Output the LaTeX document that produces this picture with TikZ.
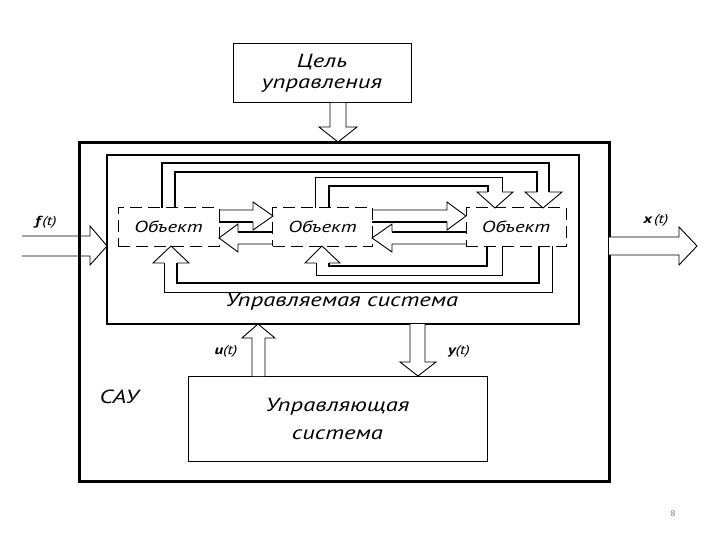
\documentclass[tikz,border=0pt]{standalone}
\usepackage{fontspec}
\newfontfamily\lbl[FakeStretch=1.3]{PT Sans}
\begin{document}
\begin{tikzpicture}[x=1pt,y=-1pt,
  box/.style={draw, line width=1pt, inner sep=0pt},
  bigtxt/.style={font=\lbl\itshape\fontsize{19}{21}\selectfont},
  objbox/.style={draw, line width=1pt, dash pattern=on 12pt off 6pt, inner sep=0pt,
    minimum height=38pt, font=\lbl\itshape\fontsize{16}{18}\selectfont},
  thinln/.style={line width=0.9pt},
  midln/.style={line width=1.6pt},
  thickln/.style={line width=2.4pt},
  hollow/.style={draw, line width=0.9pt, line join=miter},
  sig/.style={font=\lbl\itshape\fontsize{13}{15}\selectfont, inner sep=1pt},
]
\useasboundingbox (0,0) rectangle (720,540);
\fill[white] (0,0) rectangle (720,540);

% boxes
\node[box, bigtxt, minimum width=178pt, minimum height=59pt, align=center] (goal) at (322,73.5) {Цель\\управления};
\node[draw, line width=3pt, minimum width=530pt, minimum height=338pt, inner sep=0pt] (sau) at (344,312) {};
\node[box, line width=1.2pt, minimum width=472pt, minimum height=169pt] (plant) at (343,239.5) {};
\node[objbox, minimum width=101pt] (o1) at (168.5,227) {Объект};
\node[objbox, minimum width=100pt] (o2) at (322.5,227) {Объект};
\node[objbox, minimum width=100pt] (o3) at (516,227) {Объект};
\node[box, font=\lbl\itshape\fontsize{19}{28}\selectfont, minimum width=299pt, minimum height=85pt, align=center] (ctrl) at (337.5,418.5) {Управляющая\\система};
\node[bigtxt] (plantlbl) at (342,302) {Управляемая система};
\node[font=\lbl\itshape\fontsize{19}{22}\selectfont] (saulbl) at (119,397) {САУ};

% signal labels
\node[sig] (flbl) at (46,222) {{\bfseries f}\,(t)};
\node[sig] (xlbl) at (656,220) {{\bfseries x}\,(t)};
\node[sig] (ulbl) at (226,351) {{\bfseries u}(t)};
\node[sig] (ylbl) at (459,351) {{\bfseries y}(t)};
\node[font=\lbl\fontsize{8}{9}\selectfont, text=gray] (pnum) at (673,514) {8};

% goal -> system
\draw[hollow, fill=white] (330,103) -- (330,127) -- (319,127) -- (338,142) -- (357,127) -- (346,127) -- (346,103);
% input f(t)
\draw[hollow] (22,236) -- (90,236) -- (90,226) -- (107,246) -- (90,265) -- (90,256) -- (22,256);
% output x(t)
\draw[hollow, fill=white] (609,237) -- (679,237) -- (679,227) -- (697,246) -- (679,265) -- (679,255) -- (609,255);
% u(t)
\draw[hollow, fill=white] (252,376) -- (252,338) -- (242,338) -- (258,324) -- (275,338) -- (265,338) -- (265,376);
% y(t)
\draw[hollow, fill=white] (410,324) -- (410,362) -- (400,362) -- (418,376) -- (436,362) -- (425,362) -- (425,324);

% arrows between objects
\draw[hollow] (219,210) -- (253,210) -- (253,202) -- (273,216) -- (253,230) -- (253,222) -- (219,222);
\draw[midln] (219,222) -- (253,222);
\draw[hollow] (273,232) -- (238,232) -- (238,224) -- (219,238) -- (238,252) -- (238,244) -- (273,244);
\draw[midln] (273,232) -- (238,232);
\draw[hollow] (372,210) -- (447,210) -- (447,202) -- (466,216) -- (447,230) -- (447,222) -- (372,222);
\draw[midln] (372,222) -- (447,222);
\draw[hollow] (466,232) -- (392,232) -- (392,224) -- (372,238) -- (392,252) -- (392,244) -- (466,244);
\draw[midln] (466,232) -- (392,232);

% top pipe: obj1 -> obj3
\draw[thickln, line join=miter] (162,208) -- (162,163) -- (549,163) -- (549,192);
\draw[midln, line join=miter] (175,208) -- (175,172) -- (537,172) -- (537,192);
\draw[hollow] (537,192) -- (525,192) -- (543,208) -- (562,192) -- (549,192);
% top pipe: obj2 -> obj3
\draw[thinln, line join=miter] (315,208) -- (315,177) -- (502,177) -- (502,192);
\draw[thickln, line join=miter] (329,208) -- (329,186) -- (488,186) -- (488,192);
\draw[hollow] (488,192) -- (477,192) -- (495,208) -- (513,192) -- (502,192);

% bottom pipe: obj3 -> obj1
\draw[hollow] (164,263) -- (153,263) -- (171,246) -- (189,263) -- (177,263);
\draw[thinln, line join=miter] (164,263) -- (164,292) -- (552,292) -- (552,246);
\draw[thickln, line join=miter] (177,263) -- (177,283) -- (539,283) -- (539,246);
% bottom pipe: obj3 -> obj2
\draw[hollow] (316,263) -- (305,263) -- (322,246) -- (340,263) -- (329,263);
\draw[thinln, line join=miter] (316,263) -- (316,275) -- (502,275) -- (502,246);
\draw[thickln, line join=miter] (329,263) -- (329,266) -- (487,266) -- (487,246);
\end{tikzpicture}
\end{document}
